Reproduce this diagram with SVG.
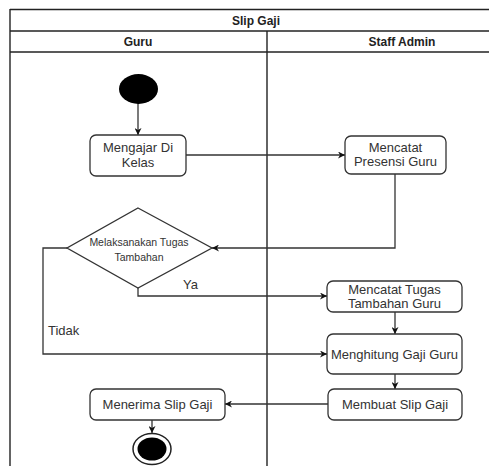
<svg xmlns="http://www.w3.org/2000/svg" width="489" height="466" viewBox="0 0 489 466">
  <defs>
    <marker id="arrow" viewBox="0 0 10 10" refX="10" refY="5" markerWidth="7" markerHeight="7" orient="auto" markerUnits="userSpaceOnUse">
      <path d="M0,0 L10,5 L0,10 L3,5 Z" fill="#111"/>
    </marker>
    <style>
      .pool { fill: none; stroke: #222; stroke-width: 1.4; }
      .head { font-family: "Liberation Sans", Arial, sans-serif; font-size: 12px; font-weight: bold; fill: #222; text-anchor: middle; }
      .act rect { fill: #fff; stroke: #333; stroke-width: 1.3; }
      .label { font-family: "Liberation Sans", Arial, sans-serif; font-size: 13px; fill: #333; text-anchor: middle; }
      .small { font-family: "Liberation Sans", Arial, sans-serif; font-size: 10.5px; fill: #333; text-anchor: middle; }
      .edge { fill: none; stroke: #333; stroke-width: 1.3; }
      .guard { font-family: "Liberation Sans", Arial, sans-serif; font-size: 13px; fill: #333; }
    </style>
  </defs>

  <rect width="489" height="466" fill="#fff"/>

  <!-- swimlane pool -->
  <g id="pool">
    <line class="pool" x1="10" y1="9.5" x2="489" y2="9.5"/>
    <line class="pool" x1="10" y1="31" x2="489" y2="31" stroke-width="2"/>
    <line class="pool" x1="10" y1="52" x2="489" y2="52"/>
    <line class="pool" x1="10" y1="9" x2="10" y2="466" stroke-width="2.5"/>
    <line class="pool" x1="267" y1="31" x2="267" y2="466"/>
    <text class="head" x="256" y="24.5">Slip Gaji</text>
    <text class="head" x="138" y="46">Guru</text>
    <text class="head" x="402" y="46">Staff Admin</text>
  </g>

  <!-- connectors -->
  <g id="connectors">
    <line class="edge" x1="138" y1="103" x2="138" y2="135" marker-end="url(#arrow)"/>
    <line class="edge" x1="186" y1="155" x2="345" y2="155" marker-end="url(#arrow)"/>
    <polyline class="edge" points="395,174 395,248 212,248" marker-end="url(#arrow)"/>
    <polyline class="edge" points="138,288 138,296 327,296" marker-end="url(#arrow)"/>
    <polyline class="edge" points="67,248 43,248 43,354 327,354" marker-end="url(#arrow)"/>
    <line class="edge" x1="395" y1="312" x2="395" y2="334" marker-end="url(#arrow)"/>
    <line class="edge" x1="395" y1="374" x2="395" y2="389" marker-end="url(#arrow)"/>
    <line class="edge" x1="328" y1="404" x2="225" y2="404" marker-end="url(#arrow)"/>
    <line class="edge" x1="152" y1="420" x2="152" y2="433" marker-end="url(#arrow)"/>
    <text class="guard" x="183" y="289">Ya</text>
    <text class="guard" x="48" y="335">Tidak</text>
  </g>

  <!-- nodes -->
  <g id="start">
    <ellipse cx="138.5" cy="89" rx="19.5" ry="15" fill="#000"/>
  </g>

  <g id="mengajar" class="act">
    <rect x="90" y="135" width="96" height="41" rx="6"/>
    <text class="label" x="138" y="152">Mengajar Di</text>
    <text class="label" x="138" y="167">Kelas</text>
  </g>

  <g id="presensi" class="act">
    <rect x="345" y="136" width="101" height="38" rx="6"/>
    <text class="label" x="395.5" y="152">Mencatat</text>
    <text class="label" x="395.5" y="166">Presensi Guru</text>
  </g>

  <g id="decision">
    <polygon points="138,208 212,248 138,288 67,248" fill="#fff" stroke="#333" stroke-width="1.3"/>
    <text class="small" x="139" y="246">Melaksanakan Tugas</text>
    <text class="small" x="139" y="261">Tambahan</text>
  </g>

  <g id="tugas-tambahan" class="act">
    <rect x="327" y="281" width="135" height="31" rx="6"/>
    <text class="label" x="394.5" y="294">Mencatat Tugas</text>
    <text class="label" x="394.5" y="308">Tambahan Guru</text>
  </g>

  <g id="menghitung" class="act">
    <rect x="327" y="334" width="135" height="40" rx="6"/>
    <text class="label" x="394.5" y="359">Menghitung Gaji Guru</text>
  </g>

  <g id="membuat" class="act">
    <rect x="328" y="389" width="134" height="31" rx="6"/>
    <text class="label" x="395" y="409">Membuat Slip Gaji</text>
  </g>

  <g id="menerima" class="act">
    <rect x="90" y="389" width="135" height="31" rx="6"/>
    <text class="label" x="157.5" y="409">Menerima Slip Gaji</text>
  </g>

  <g id="end">
    <ellipse cx="152" cy="449" rx="19" ry="15.5" fill="#fff" stroke="#222" stroke-width="1.5"/>
    <ellipse cx="152" cy="449" rx="14.5" ry="11.5" fill="#000"/>
  </g>
</svg>
